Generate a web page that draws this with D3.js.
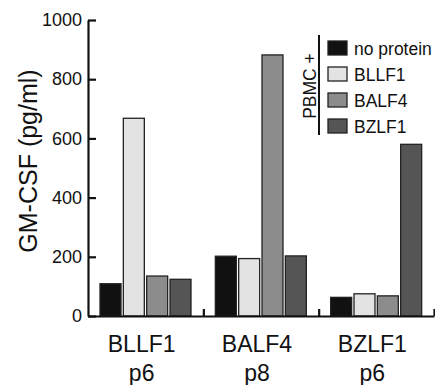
<!DOCTYPE html>
<html>
<head>
<meta charset="utf-8">
<script src="https://cdn.jsdelivr.net/npm/d3@7"></script>
<style>
  body { margin: 0; background: #fff; }
  svg text { font-family: "Liberation Sans", Arial, sans-serif; fill: #111; }
</style>
</head>
<body>
<div id="chart"></div>
<script>
// dados
var groups = ["BLLF1", "BALF4", "BZLF1"];
var groupSub = ["p6", "p8", "p6"];
var series = ["no protein", "BLLF1", "BALF4", "BZLF1"];
var colors = ["#111111", "#e3e3e3", "#8c8c8c", "#555555"];
var noProtein = [109, 202, 63];
var bllf1 = [668, 194, 75];
var balf4 = [135, 882, 68];
var bzlf1 = [124, 203, 580];
var yTicks = [0, 200, 400, 600, 800, 1000];

(function(){
var values = [noProtein, bllf1, balf4, bzlf1];

var width = 435, height = 385;
var plotLeft = 88, plotRight = 434, plotTop = 20, plotBottom = 316;

var svg = d3.select('#chart').append('svg')
    .attr('width', width).attr('height', height);

var xs = d3.scaleBand().domain(groups).range([plotLeft, plotRight]).padding(0);
var xi = d3.scaleBand().domain(series).range([12, 103]).paddingInner(0.1);
var ys = d3.scaleLinear().domain([0, 1000]).range([plotBottom, plotTop]);

// barras
groups.forEach(function(g, gi){
    svg.append('g').selectAll('rect')
        .data(series)
        .enter().append('rect')
        .attr('x', function(s){ return xs(g) + xi(s); })
        .attr('y', function(s, si){ return ys(values[si][gi]); })
        .attr('width', xi.bandwidth())
        .attr('height', function(s, si){ return plotBottom - ys(values[si][gi]); })
        .attr('fill', function(s, si){ return colors[si]; })
        .attr('stroke', '#222')
        .attr('stroke-width', 1.3);
});

// eixo y
var yAxis = svg.append('g')
    .attr('transform', 'translate(' + plotLeft + ',0)')
    .call(d3.axisLeft(ys).tickValues(yTicks).tickFormat(d3.format('d'))
        .tickSizeInner(-8).tickSizeOuter(0).tickPadding(6));
yAxis.select('.domain').attr('stroke', '#111').attr('stroke-width', 2.2);
yAxis.selectAll('.tick line').attr('stroke', '#111').attr('stroke-width', 2.2);
yAxis.selectAll('.tick text').attr('font-size', 18).attr('fill', '#111')
    .style('font-family', '"Liberation Sans", Arial, sans-serif');

// eixo x (marcas entre grupos)
var xb = d3.scaleLinear().domain([0, groups.length]).range([plotLeft, plotRight]);
var xAxis = svg.append('g')
    .attr('transform', 'translate(0,' + plotBottom + ')')
    .call(d3.axisBottom(xb).tickValues([1, 2, 3]).tickSizeInner(-7).tickSizeOuter(0).tickFormat(''));
xAxis.select('.domain').attr('stroke', '#111').attr('stroke-width', 2.2);
xAxis.selectAll('.tick line').attr('stroke', '#111').attr('stroke-width', 2.2);

// rótulos dos grupos
var cx = function(g){ return xs(g) + xs.bandwidth() / 2 - 4; };
var lbl = svg.append('g').selectAll('text').data(groups).enter().append('text')
    .attr('text-anchor', 'middle')
    .attr('font-size', 23)
    .attr('x', cx)
    .attr('y', 352);
lbl.append('tspan').text(function(g){ return g; });
lbl.append('tspan')
    .attr('x', cx)
    .attr('dy', 29)
    .text(function(g, i){ return groupSub[i]; });

// título do eixo y
svg.append('text')
    .attr('transform', 'translate(37,161) rotate(-90)')
    .attr('text-anchor', 'middle')
    .attr('font-size', 25)
    .text('GM-CSF (pg/ml)');

// legenda
var leg = svg.append('g');
leg.append('line')
    .attr('x1', 319).attr('x2', 319).attr('y1', 35).attr('y2', 135)
    .attr('stroke', '#111').attr('stroke-width', 2);
leg.append('text')
    .attr('transform', 'translate(316,86) rotate(-90)')
    .attr('text-anchor', 'middle')
    .attr('font-size', 17.5)
    .text('PBMC +');
var item = leg.selectAll('.item').data(series).enter().append('g')
    .attr('class', 'item')
    .attr('transform', function(d, i){ return 'translate(328,' + (41 + i * 26) + ')'; });
item.append('rect')
    .attr('width', 19).attr('height', 14)
    .attr('fill', function(d, i){ return colors[i]; })
    .attr('stroke', '#222').attr('stroke-width', 1.3);
item.append('text')
    .attr('x', 26).attr('y', 14)
    .attr('font-size', 17.5)
    .text(function(d){ return d; });
})();
</script>
</body>
</html>
